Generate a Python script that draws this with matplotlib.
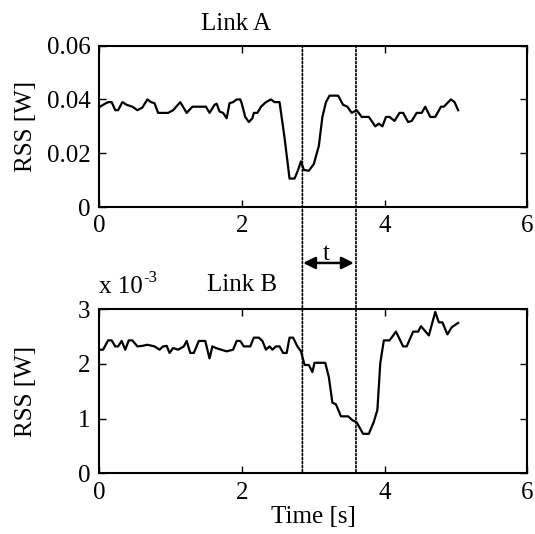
import matplotlib
matplotlib.use("Agg")
import matplotlib.pyplot as plt
from matplotlib.patches import ConnectionPatch

plt.rcParams['font.family'] = ['Liberation Serif', 'DejaVu Serif']
plt.rcParams['font.size'] = 18

# Link A: time [s] and RSS [W]
time_a = [0.00, 0.06, 0.13, 0.18, 0.23, 0.27, 0.33, 0.39, 0.47, 0.54, 0.61, 0.68, 0.73, 0.78,
          0.83, 0.97, 1.04, 1.14, 1.23, 1.31, 1.50, 1.55, 1.62, 1.65, 1.69, 1.74, 1.79, 1.83,
          1.88, 1.93, 1.98, 2.00, 2.05, 2.10, 2.15, 2.17, 2.22, 2.27, 2.34, 2.41, 2.46, 2.53,
          2.60, 2.67, 2.74, 2.79, 2.83, 2.87, 2.94, 3.01, 3.08, 3.13, 3.18, 3.23, 3.35, 3.42,
          3.48, 3.54, 3.61, 3.68, 3.78, 3.83, 3.87, 3.92, 3.97, 4.02, 4.07, 4.14, 4.21, 4.26,
          4.33, 4.38, 4.45, 4.52, 4.57, 4.64, 4.71, 4.79, 4.83, 4.93, 4.98, 5.03]
rss_a = [0.0370, 0.0380, 0.0390, 0.0390, 0.0360, 0.0360, 0.0390, 0.0380, 0.0373, 0.0360,
         0.0370, 0.0400, 0.0390, 0.0386, 0.0350, 0.0350, 0.0360, 0.0390, 0.0350, 0.0373,
         0.0373, 0.0350, 0.0380, 0.0384, 0.0355, 0.0350, 0.0330, 0.0386, 0.0390, 0.0400,
         0.0400, 0.0386, 0.0335, 0.0316, 0.0330, 0.0350, 0.0350, 0.0373, 0.0390, 0.0400,
         0.0390, 0.0390, 0.0258, 0.0106, 0.0106, 0.0138, 0.0170, 0.0138, 0.0135, 0.0160,
         0.0227, 0.0335, 0.0390, 0.0414, 0.0414, 0.0380, 0.0373, 0.0350, 0.0360, 0.0335,
         0.0335, 0.0316, 0.0300, 0.0310, 0.0300, 0.0335, 0.0335, 0.0320, 0.0350, 0.0350,
         0.0316, 0.0320, 0.0350, 0.0350, 0.0373, 0.0335, 0.0335, 0.0373, 0.0373, 0.0400,
         0.0390, 0.0360]

# Link B: time [s] and RSS [x 10^-3 W]
time_b = [0.00, 0.06, 0.13, 0.18, 0.23, 0.27, 0.32, 0.37, 0.42, 0.47, 0.54, 0.61, 0.68, 0.78,
          0.85, 0.90, 0.95, 0.99, 1.04, 1.11, 1.19, 1.23, 1.28, 1.33, 1.40, 1.49, 1.55, 1.59,
          1.64, 1.71, 1.79, 1.88, 1.93, 1.98, 2.03, 2.12, 2.17, 2.24, 2.29, 2.34, 2.39, 2.43,
          2.48, 2.53, 2.58, 2.63, 2.67, 2.72, 2.78, 2.83, 2.88, 2.94, 2.99, 3.02, 3.17, 3.22,
          3.27, 3.32, 3.39, 3.49, 3.55, 3.61, 3.70, 3.78, 3.85, 3.90, 3.94, 3.99, 4.07, 4.16,
          4.26, 4.31, 4.40, 4.47, 4.51, 4.62, 4.71, 4.76, 4.81, 4.88, 4.94, 5.03]
rss_b = [2.26, 2.26, 2.43, 2.43, 2.32, 2.32, 2.42, 2.26, 2.43, 2.43, 2.32, 2.33, 2.35, 2.32,
         2.26, 2.32, 2.33, 2.20, 2.29, 2.26, 2.32, 2.42, 2.20, 2.20, 2.42, 2.42, 2.10, 2.32,
         2.29, 2.26, 2.23, 2.26, 2.42, 2.42, 2.32, 2.32, 2.48, 2.48, 2.42, 2.26, 2.32, 2.26,
         2.32, 2.32, 2.20, 2.20, 2.48, 2.48, 2.32, 2.23, 1.98, 1.98, 1.85, 2.02, 2.02, 1.76,
         1.29, 1.26, 1.04, 1.04, 0.97, 0.93, 0.72, 0.72, 0.94, 1.16, 2.01, 2.43, 2.43, 2.59,
         2.32, 2.32, 2.59, 2.59, 2.69, 2.52, 2.95, 2.76, 2.76, 2.54, 2.67, 2.75]

markers_t = [2.85, 3.60]

fig = plt.figure(figsize=(5.35, 5.34), dpi=100)
ax1 = fig.add_axes([0.1847, 0.6122, 0.8011, 0.3024])
ax2 = fig.add_axes([0.1847, 0.1139, 0.8011, 0.3070])

ax1.plot(time_a, rss_a, color='black', lw=1.6)
ax1.set_xlim(0, 6)
ax1.set_ylim(0, 0.06)
ax1.set_xticks([0, 2, 4, 6])
ax1.set_yticks([0, 0.02, 0.04, 0.06])
ax1.set_yticklabels(['0', '0.02', '0.04', '0.06'])
ax1.set_ylabel('RSS [W]')
ax1.yaxis.set_label_coords(-0.145, 0.5)
ax1.text(1.92, 1.134, 'Link A', transform=ax1.get_xaxis_transform(), ha='center', va='center')

ax2.plot(time_b, rss_b, color='black', lw=1.6)
ax2.set_xlim(0, 6)
ax2.set_ylim(0, 3)
ax2.set_xticks([0, 2, 4, 6])
ax2.set_yticks([0, 1, 2, 3])
ax2.set_ylabel('RSS [W]')
ax2.yaxis.set_label_coords(-0.145, 0.5)
ax2.set_xlabel('Time [s]', labelpad=2)
ax2.text(2.0, 1.148, 'Link B', transform=ax2.get_xaxis_transform(), ha='center', va='center')
ax2.text(0.0, 1.135, 'x 10', transform=ax2.transAxes, ha='left', va='center')
ax2.text(0.103, 1.19, '-3', transform=ax2.transAxes, ha='left', va='center', fontsize=12)

for ax in (ax1, ax2):
    ax.tick_params(direction='in', top=True, right=True, length=5, width=1, pad=6)
    for s in ax.spines.values():
        s.set_linewidth(1.5)

# dotted markers spanning both panels
for t in markers_t:
    con = ConnectionPatch(xyA=(t, 0.06), coordsA=ax1.transData,
                          xyB=(t, 0), coordsB=ax2.transData,
                          color='black', lw=1.2, linestyle=(0, (1.2, 1.2)))
    fig.add_artist(con)

# double arrow for delay t
ax1.annotate('', xy=(3.57, -0.346), xytext=(2.86, -0.346),
             xycoords=ax1.get_xaxis_transform(), textcoords=ax1.get_xaxis_transform(),
             arrowprops=dict(arrowstyle='<|-|>', color='black', lw=1.8, mutation_scale=18,
                             shrinkA=0, shrinkB=0),
             annotation_clip=False)
ax1.text(3.18, -0.29, 't', transform=ax1.get_xaxis_transform(), ha='center', va='center')

fig.savefig('out.png', dpi=100)
